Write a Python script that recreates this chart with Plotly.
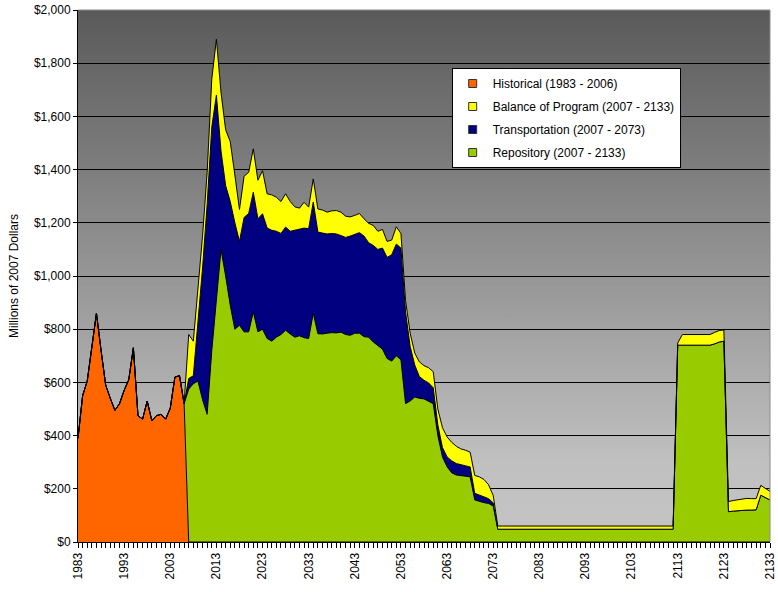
import base64
import plotly.graph_objects as go

# ---------------- data (millions of 2007 dollars) ----------------
hist_years = list(range(1983, 2007))
historical = [390, 550, 605, 730, 860, 720, 590, 540, 495, 520,
              570, 610, 730, 475, 462, 530, 456, 475, 480, 462,
              503, 620, 625, 520]

prog_years = list(range(2007, 2134))
repository = [575, 595, 605, 535, 480, 720, 925, 1100, 1000, 890,
              800, 815, 790, 790, 865, 790, 800, 765, 755, 770,
              780, 796, 782, 770, 775, 768, 765, 860, 783, 782,
              785, 787, 786, 789, 780, 777, 785, 785, 772, 770,
              752, 740, 725, 690, 680, 700, 685, 520, 530, 545,
              540, 538, 530, 520, 400, 320, 283, 260, 252, 250,
              248, 245, 158, 152, 148, 145, 135, 48, 48, 48,
              48, 48, 48, 48, 48, 48, 48, 48, 48, 48,
              48, 48, 48, 48, 48, 48, 48, 48, 48, 48,
              48, 48, 48, 48, 48, 48, 48, 48, 48, 48,
              48, 48, 48, 48, 48, 48, 740, 740, 740, 740,
              740, 740, 740, 740, 745, 752, 755, 114, 116, 118,
              120, 120, 120, 121, 176, 168, 158]

trans_years = list(range(2007, 2074))
transportation = [40, 30, 225, 495, 790, 840, 755, 370, 340, 390,
                  400, 315, 430, 445, 450, 425, 434, 415, 417, 398,
                  380, 388, 386, 402, 403, 412, 413, 418, 382, 380,
                  373, 373, 372, 363, 365, 373, 371, 378, 378, 355,
                  363, 360, 380, 380, 400, 420, 420, 345, 205, 120,
                  82, 70, 68, 60, 40, 35, 37, 45, 43, 40,
                  37, 37, 25, 25, 22, 18, 12]

balance = [165, 130, 120, 120, 120, 180, 210, 220, 210, 225,
           180, 120, 155, 155, 163, 145, 162, 129, 133, 128,
           120, 125, 112, 88, 77, 97, 81, 87, 87, 86,
           82, 85, 88, 88, 80, 72, 72, 72, 65, 73,
           75, 68, 70, 60, 55, 65, 55, 43, 50, 45,
           55, 55, 57, 60, 60, 75, 75, 70, 65, 60,
           60, 56, 67, 68, 65, 52, 28, 12, 12, 12,
           12, 12, 12, 12, 12, 12, 12, 12, 12, 12,
           12, 12, 12, 12, 12, 12, 12, 12, 12, 12,
           12, 12, 12, 12, 12, 12, 12, 12, 12, 12,
           12, 12, 12, 12, 12, 12, 8, 40, 40, 40,
           40, 40, 40, 40, 43, 43, 42, 38, 40, 40,
           42, 44, 43, 42, 37, 32, 32]

series_names = ["Historical (1983 - 2006)", "Balance of Program (2007 - 2133)",
                "Transportation (2007 - 2073)", "Repository (2007 - 2133)"]

ORANGE, YELLOW, NAVY, GREEN = "#FF6600", "#FFFF00", "#000080", "#99CC00"
FONT = "Liberation Sans, Arial, sans-serif"

fig = go.Figure()
line = dict(color="black", width=1)
stack = [
    (hist_years, historical, ORANGE),
    (prog_years, repository, GREEN),
    (trans_years, transportation, NAVY),
    (prog_years, balance, YELLOW),
]
for xs, ys, col in stack:
    fig.add_trace(go.Scatter(x=xs, y=ys, stackgroup="all", mode="lines",
                             line=line, fillcolor=col, showlegend=False,
                             hoverinfo="skip"))

# legend entries
for i, (name, col) in enumerate(zip(series_names, [ORANGE, YELLOW, NAVY, GREEN])):
    fig.add_trace(go.Scatter(x=[None], y=[None], mode="markers", name=name,
                             legendgroup="g%d" % i,
                             marker=dict(symbol="square", size=8, color=col,
                                         line=dict(color="#333333", width=1))))

# gradient plot-area background
svg = ('<svg xmlns="http://www.w3.org/2000/svg" width="100" height="100" '
       'preserveAspectRatio="none"><defs><linearGradient id="g" x1="0" y1="0" '
       'x2="0" y2="1"><stop offset="0" stop-color="#5a5a5a"/>'
       '<stop offset="0.85" stop-color="#c0c0c0"/>'
       '<stop offset="1" stop-color="#c4c4c4"/></linearGradient></defs>'
       '<rect width="100" height="100" fill="url(#g)"/></svg>')
src = "data:image/svg+xml;base64," + base64.b64encode(svg.encode()).decode()

fig.update_layout(
    width=778, height=592,
    margin=dict(l=78, r=8, t=10, b=50, autoexpand=False),
    paper_bgcolor="white",
    plot_bgcolor="rgba(0,0,0,0)",
    font=dict(family=FONT, size=12, color="black"),
    images=[dict(source=src, xref="paper", yref="paper", x=0, y=1,
                 sizex=1, sizey=1, sizing="stretch", layer="below",
                 xanchor="left", yanchor="top")],
    shapes=[dict(type="path", xref="paper", yref="paper",
                 path="M 0 1 L 1 1 L 1 0", line=dict(color="#8a8a8a", width=1))],
    legend=dict(x=0.54, y=0.891, xanchor="left", yanchor="top",
                bgcolor="white", bordercolor="black", borderwidth=1,
                font=dict(family=FONT, size=12, color="black"),
                traceorder="grouped", tracegroupgap=4),
    xaxis=dict(range=[1983, 2133], tick0=1983, dtick=10, tickangle=-90,
               ticks="outside", ticklen=5, tickcolor="black",
               showgrid=False, zeroline=False, showline=True,
               linecolor="black", linewidth=1,
               tickfont=dict(family=FONT, size=12, color="black"),
               minor=dict(dtick=1, ticks="outside", ticklen=5,
                          tickcolor="black", showgrid=False)),
    yaxis=dict(range=[0, 2000], dtick=200, tickprefix="$", tickformat=",",
               ticks="outside", ticklen=4, tickcolor="black",
               showgrid=True, gridcolor="black", gridwidth=1,
               zeroline=False, showline=True, linecolor="black", linewidth=1,
               tickfont=dict(family=FONT, size=12, color="black"),
               title=dict(text="Millions of 2007 Dollars",
                          font=dict(family=FONT, size=12, color="black"),
                          standoff=12)),
)

fig.write_html("out.html",
               config={"displayModeBar": False, "staticPlot": True},
               post_script="document.body.style.margin='0';"
                           "document.body.style.overflow='hidden';")
